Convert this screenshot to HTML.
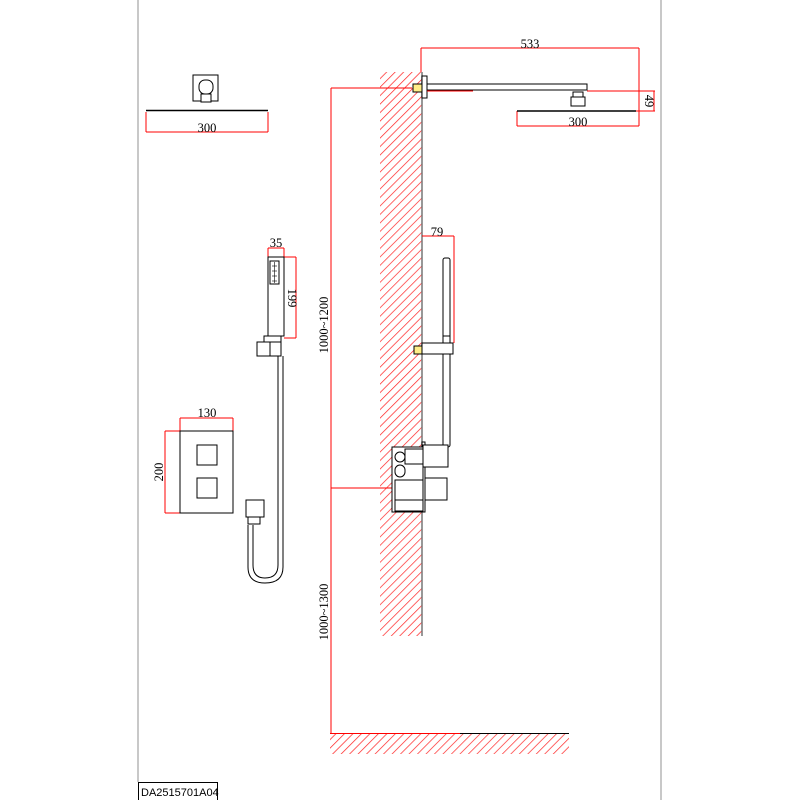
<!DOCTYPE html>
<html><head><style>body{margin:0;background:#fff}svg{display:block}</style></head><body>
<svg width="800" height="800" viewBox="0 0 800 800" xmlns="http://www.w3.org/2000/svg" font-family="Liberation Serif, serif" font-size="12.5">
<defs>
<pattern id="h" patternUnits="userSpaceOnUse" width="6" height="6" patternTransform="rotate(45)">
<line x1="0" y1="0" x2="0" y2="6" stroke="#f22" stroke-width="1.4"/>
</pattern>
</defs>
<line x1="138" y1="0" x2="138" y2="782" stroke="#c8c8c8" stroke-width="2"/>
<line x1="661" y1="0" x2="661" y2="800" stroke="#c8c8c8" stroke-width="2"/>
<rect x="138.5" y="782.5" width="79" height="18" fill="#fff" stroke="#000"/>
<text x="141" y="796" font-family="Liberation Sans, sans-serif" font-size="11">DA2515701A04</text>
<rect x="380" y="72" width="42" height="564" fill="url(#h)"/>
<line x1="422" y1="72" x2="422" y2="636" stroke="#777" stroke-width="1.5"/>
<rect x="330" y="734" width="239" height="20" fill="url(#h)"/>
<line x1="330" y1="733.5" x2="569" y2="733.5" stroke="#000"/>
<line x1="330" y1="733.5" x2="460" y2="733.5" stroke="#f00"/>
<g stroke="#f00" fill="none">
<line x1="331" y1="88" x2="331" y2="733"/>
<line x1="331" y1="88" x2="412" y2="88"/>
<line x1="331" y1="488" x2="392" y2="488"/>
<line x1="421" y1="48" x2="639" y2="48"/>
<line x1="421" y1="48" x2="421" y2="72"/>
<line x1="639" y1="48" x2="639" y2="126"/>
<line x1="587" y1="91" x2="655" y2="91"/>
<line x1="636" y1="111" x2="655" y2="111"/>
<line x1="654" y1="91" x2="654" y2="111"/>
<line x1="517" y1="126" x2="639" y2="126"/>
<line x1="517" y1="111" x2="517" y2="126"/>
<line x1="422" y1="236" x2="454" y2="236"/>
<line x1="454" y1="236" x2="454" y2="343"/>
<line x1="146" y1="132" x2="268" y2="132"/>
<line x1="146" y1="112" x2="146" y2="132"/>
<line x1="268" y1="112" x2="268" y2="132"/>
<line x1="268" y1="248" x2="284" y2="248"/>
<line x1="268" y1="248" x2="268" y2="257"/>
<line x1="284" y1="248" x2="284" y2="257"/>
<line x1="284" y1="257" x2="296" y2="257"/>
<line x1="284" y1="338" x2="296" y2="338"/>
<line x1="296" y1="257" x2="296" y2="338"/>
<line x1="180" y1="418" x2="233" y2="418"/>
<line x1="180" y1="418" x2="180" y2="431"/>
<line x1="233" y1="418" x2="233" y2="431"/>
<line x1="165" y1="431" x2="180" y2="431"/>
<line x1="165" y1="513" x2="180" y2="513"/>
<line x1="165" y1="431" x2="165" y2="513"/>
</g>
<g fill="#000" text-anchor="middle">
<text x="530" y="48">533</text>
<text x="578" y="126">300</text>
<text x="207" y="132">300</text>
<text x="437" y="236">79</text>
<text x="276" y="247">35</text>
<text x="207" y="417">130</text>
<text transform="translate(645,101) rotate(90)">49</text>
<text transform="translate(288,298) rotate(90)">199</text>
<text transform="translate(163,472) rotate(-90)">200</text>
<text transform="translate(328,325) rotate(-90)">1000~1200</text>
<text transform="translate(328,612) rotate(-90)">1000~1300</text>
</g>
<g stroke="#000" fill="#fff" stroke-width="1">
<rect x="413" y="84" width="9" height="8" fill="#fe8" stroke="#000"/>
<rect x="422" y="76" width="5" height="22"/>
<rect x="427" y="84" width="160" height="6"/>
<line x1="427" y1="91" x2="473" y2="91" stroke="#f00"/>
<rect x="573" y="92" width="10" height="5"/>
<rect x="571" y="97" width="14" height="9"/>
<line x1="517" y1="111" x2="636" y2="111" stroke-width="1.5"/>
<rect x="414" y="346" width="8" height="8" fill="#fe8"/>
<rect x="443" y="258" width="7" height="189" rx="2"/>
<rect x="443" y="336" width="7" height="7"/>
<rect x="422" y="343" width="31" height="11"/>
<rect x="422" y="442" width="3" height="70"/>
<rect x="392" y="447" width="31" height="65"/>
<rect x="395" y="452" width="10" height="10" rx="5"/>
<rect x="395" y="465" width="10" height="12" rx="5"/>
<rect x="405" y="449" width="18" height="15"/>
<rect x="395" y="480" width="28" height="20"/>
<rect x="395" y="500" width="28" height="11"/>
<rect x="423" y="445" width="25" height="22"/>
<rect x="425" y="478" width="22" height="22"/>
<rect x="193" y="75" width="25" height="26"/>
<rect x="199" y="80" width="14" height="14" rx="6"/>
<rect x="201" y="94" width="10" height="8"/>
<line x1="146" y1="110.5" x2="268" y2="110.5" stroke-width="1.5"/>
<rect x="268" y="257" width="16" height="79"/>
<rect x="270" y="261" width="9" height="23"/>
<rect x="264" y="336" width="17" height="6"/>
<rect x="257" y="342" width="14" height="14"/>
<rect x="270" y="342" width="11" height="14"/>
<path d="M278 356 V565 Q278 578 265 578 Q253 578 253 565 V525 M283 356 V567 Q283 583 265 583 Q248 583 248 567 V525" fill="none"/>
<rect x="246" y="500" width="18" height="17"/>
<rect x="248" y="517" width="12" height="7"/>
<rect x="180" y="431" width="53" height="82"/>
<rect x="197" y="445" width="20" height="20"/>
<rect x="197" y="478" width="20" height="20"/>
</g>
<g stroke="#000" stroke-width="0.6">
<line x1="272" y1="266" x2="277" y2="266"/><line x1="272" y1="271" x2="277" y2="271"/><line x1="272" y1="276" x2="277" y2="276"/><line x1="272" y1="281" x2="277" y2="281"/>
<line x1="274.5" y1="262" x2="274.5" y2="283"/>
</g>
</svg>
</body></html>
